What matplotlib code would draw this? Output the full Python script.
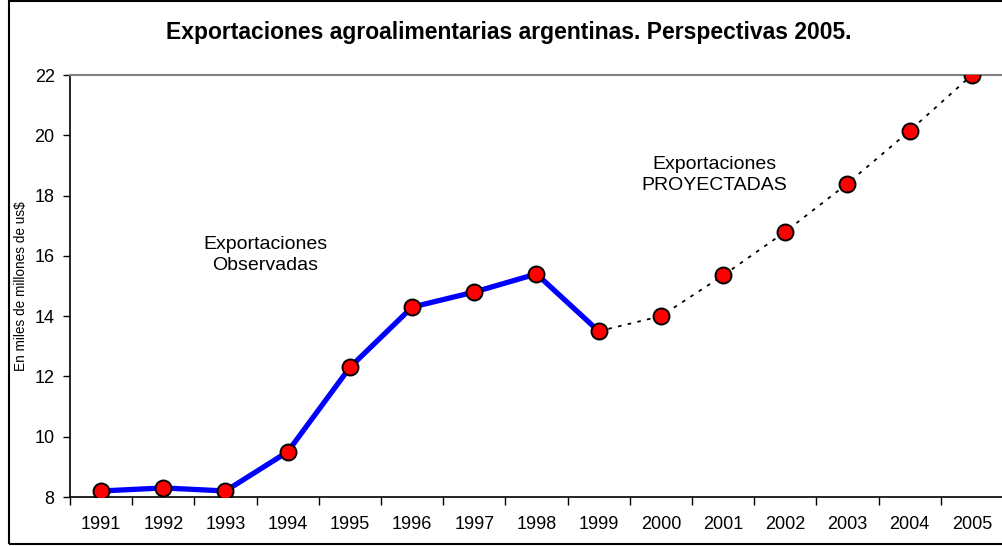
import numpy as np
import matplotlib.pyplot as plt
from matplotlib.patches import Rectangle

plt.rcParams["font.family"] = ["Liberation Sans", "DejaVu Sans"]

years = ["1991", "1992", "1993", "1994", "1995", "1996", "1997", "1998",
         "1999", "2000", "2001", "2002", "2003", "2004", "2005"]
exports = [8.2, 8.3, 8.2, 9.5, 12.3, 14.3, 14.8, 15.4,
           13.5, 14.0, 15.35, 16.8, 18.4, 20.15, 22.0]
last_observed = "1999"

split = years.index(last_observed)
x = np.arange(len(years))

fig = plt.figure(figsize=(10.02, 5.46), dpi=100)
ax = fig.add_axes([70 / 1002, 1 - 497 / 546, 933 / 1002, 422 / 546])

# observed part: thick blue line
ax.plot(x[:split + 1], exports[:split + 1], color="#0000ff", lw=3.8,
        solid_capstyle="round", zorder=2)
# projected part: dotted black
ax.plot(x[split:], exports[split:], color="black", lw=1.3,
        linestyle=(0, (2, 3.5)), zorder=2)
ax.plot(x, exports, "o", ms=11.5, mfc="#ff0000", mec="black", mew=1.4,
        zorder=3)

ax.set_xlim(-0.5, len(years) - 0.5)
ax.set_ylim(8, 22)
ax.set_yticks(np.arange(8, 23, 2))
ax.tick_params(axis="y", labelsize=13, length=5, width=1, pad=6)

ax.set_xticks(np.arange(-0.5, len(years), 1))
ax.set_xticklabels([])
ax.tick_params(axis="x", which="major", length=6, width=1)
ax.set_xticks(x, minor=True)
ax.set_xticklabels(years, minor=True)
ax.tick_params(axis="x", which="minor", length=0, labelsize=13, pad=14)

ax.spines["left"].set_linewidth(1.2)
ax.spines["bottom"].set_linewidth(1.2)
ax.spines["top"].set_color("#808080")
ax.spines["top"].set_linewidth(1.5)
ax.spines["right"].set_color("#808080")

ax.set_ylabel("En miles de millones de us$", fontsize=9.8, labelpad=5)

ax.text(2.64, 16.03, "Exportaciones\nObservadas", ha="center", va="center",
        fontsize=14, linespacing=1.25)
ax.text(9.86, 18.68, "Exportaciones\nPROYECTADAS", ha="center", va="center",
        fontsize=14, linespacing=1.25)

fig.text(0.508, 1 - 33 / 546, "Exportaciones agroalimentarias argentinas. Perspectivas 2005.",
         ha="center", va="center", fontsize=16.5, fontweight="bold")

fig.patches.append(Rectangle((9 / 1002, 1 - 544 / 546), 1.1, 543 / 546,
                             transform=fig.transFigure, fill=False,
                             edgecolor="black", lw=1.5, clip_on=False))

fig.savefig("out.png", dpi=100)
